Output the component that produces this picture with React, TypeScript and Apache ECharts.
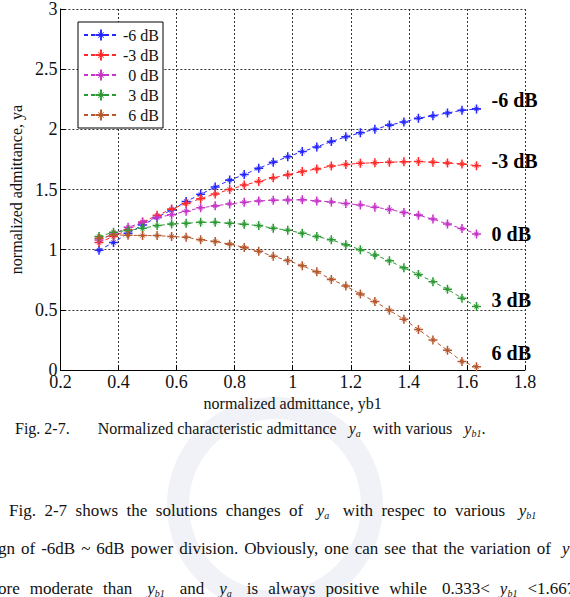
import React, { useEffect, useRef } from "react";
import * as echarts from "echarts";

const FONT = "Liberation Serif, Times New Roman, serif";

// normalized admittance yb1 (x)
const yb1 = [
  0.333, 0.383, 0.433, 0.483, 0.533, 0.583, 0.633, 0.683, 0.733, 0.783,
  0.833, 0.883, 0.933, 0.983, 1.033, 1.083, 1.133, 1.183, 1.233, 1.283,
  1.333, 1.383, 1.433, 1.483, 1.533, 1.583, 1.633,
];

const seriesNames = ["-6 dB", "-3 dB", "0 dB", "3 dB", "6 dB"];
const seriesColors = ["#2626ff", "#ff2a2a", "#c435c8", "#2c9a35", "#b5582e"];

const yaM6 = [
  0.995, 1.06, 1.136, 1.205, 1.268, 1.33, 1.4, 1.46, 1.52, 1.578,
  1.624, 1.676, 1.726, 1.772, 1.815, 1.854, 1.898, 1.938, 1.971, 2.0,
  2.035, 2.061, 2.093, 2.112, 2.136, 2.158, 2.17,
];
const yaM3 = [
  1.06, 1.11, 1.165, 1.23, 1.285, 1.337, 1.383, 1.424, 1.463, 1.5,
  1.537, 1.567, 1.597, 1.623, 1.65, 1.671, 1.695, 1.708, 1.718, 1.722,
  1.727, 1.73, 1.732, 1.727, 1.72, 1.712, 1.698,
];
const ya0 = [
  1.08, 1.13, 1.186, 1.227, 1.268, 1.29, 1.32, 1.348, 1.364, 1.38,
  1.394, 1.405, 1.411, 1.413, 1.415, 1.405, 1.397, 1.383, 1.372, 1.353,
  1.334, 1.309, 1.287, 1.254, 1.213, 1.175, 1.13,
];
const yaP3 = [
  1.109, 1.145, 1.16, 1.178, 1.2, 1.213, 1.219, 1.227, 1.227, 1.219,
  1.211, 1.2, 1.178, 1.162, 1.136, 1.109, 1.082, 1.041, 1.0, 0.956,
  0.907, 0.849, 0.794, 0.734, 0.671, 0.597, 0.528,
];
const yaP6 = [
  1.095, 1.123, 1.12, 1.117, 1.117, 1.109, 1.104, 1.082, 1.068, 1.046,
  1.019, 0.986, 0.945, 0.91, 0.867, 0.816, 0.753, 0.698, 0.632, 0.569,
  0.496, 0.422, 0.336, 0.25, 0.164, 0.071, 0.027,
];
const seriesValues = [yaM6, yaM3, ya0, yaP3, yaP6];

const xTicks = { min: 0.2, max: 1.8, interval: 0.2 };
const yTicks = { min: 0, max: 3, interval: 0.5 };

// end label vertical offsets (px)
const endLabelDy = [-9, -5, 0, -6, -14];

const STAR =
  "path://M4.15,0L5.85,0L5.85,10L4.15,10Z M0,4.15L10,4.15L10,5.85L0,5.85Z " +
  "M2.3,2.8L2.8,2.3L7.7,7.2L7.2,7.7Z M7.2,2.3L7.7,2.8L2.8,7.7L2.3,7.2Z";

const sub = (base: string, s: string) => `{i|${base}}{s|${s}}`;

const captionText =
  "Fig. 2-7.{g1| }Normalized characteristic admittance{g2| }" +
  sub("y", "a") +
  "{g2| }with various{g2| }" +
  sub("y", "b1") +
  ".";

const line1 = [
  "Fig.", "2-7", "shows", "the", "solutions", "changes", "of", "{w2| }" + sub("y", "a") + "{w2| }",
  "with", "respec", "to", "various", "{w2| }" + sub("y", "b1"),
];
const line2 = [
  "gn", "of", "-6dB", "~", "6dB", "power", "division.", "Obviously,", "one", "can", "see",
  "that", "the", "variation", "of", "{w2| }{i|y}",
];
const line3 = [
  "ore", "moderate", "than", "{w2| }" + sub("y", "b1") + "{w2| }", "and", "{w2| }" + sub("y", "a") + "{w2| }",
  "is", "always", "positive", "while", "{w2| }0.333<", sub("y", "b1"), "<1.667",
];

function joinWords(ws: string[]) {
  return ws.join("{w| }");
}

function richBase(fontSize: number, gap: number) {
  return {
    w: { width: gap, fontSize },
    w2: { width: 5, fontSize },
    g1: { width: 28, fontSize },
    g2: { width: 12, fontSize },
    i: { fontStyle: "italic", fontSize, fontFamily: FONT, color: "#111" },
    s: { fontStyle: "italic", fontSize: 10, fontFamily: FONT, color: "#111", verticalAlign: "bottom", lineHeight: 12 },
  };
}

function textEl(text: string, x: number, y: number, fontSize: number, gap: number) {
  return {
    type: "text",
    x,
    y,
    silent: true,
    style: {
      text,
      fontFamily: FONT,
      fontSize,
      fill: "#111",
      verticalAlign: "middle",
      align: "left",
      lineHeight: 20,
      rich: richBase(fontSize, gap),
    },
  };
}

export default function App() {
  const ref = useRef<HTMLDivElement>(null);

  useEffect(() => {
    if (!ref.current) return;
    const chart = echarts.init(ref.current, null, { renderer: "svg" });

    const option: any = {
      animation: false,
      backgroundColor: "#ffffff",
      textStyle: { fontFamily: FONT },
      grid: { left: 46, right: 45, top: 5, bottom: 227, containLabel: false },
      legend: {
        orient: "vertical",
        left: 78,
        top: 22,
        backgroundColor: "#ffffff",
        borderColor: "#000",
        borderWidth: 1,
        borderRadius: 0,
        padding: [5, 4, 5, 5],
        itemWidth: 34,
        itemHeight: 14,
        itemGap: 4,
        data: seriesNames,
        formatter: (n: string) => `{t|${n}}`,
        textStyle: {
          fontFamily: FONT,
          fontSize: 16,
          lineHeight: 14,
          color: "#111",
          rich: { t: { width: 36, align: "right", fontFamily: FONT, fontSize: 16, lineHeight: 14, color: "#111" } },
        },
      },
      xAxis: {
        type: "value",
        min: xTicks.min,
        max: xTicks.max,
        interval: xTicks.interval,
        name: "normalized admittance, yb1",
        nameLocation: "middle",
        nameGap: 22,
        nameTextStyle: { fontFamily: FONT, fontSize: 16, color: "#111" },
        axisLine: { show: true, onZero: false, lineStyle: { color: "#000", width: 1 } },
        axisTick: { show: true, inside: true, length: 5, lineStyle: { color: "#000" } },
        axisLabel: { fontFamily: FONT, fontSize: 18, color: "#111", margin: 3 },
        splitLine: { show: true, lineStyle: { color: "#333", type: [2, 2], width: 1 } },
      },
      yAxis: {
        type: "value",
        min: yTicks.min,
        max: yTicks.max,
        interval: yTicks.interval,
        name: "normalized admittance, ya",
        nameLocation: "middle",
        nameGap: 36,
        nameTextStyle: { fontFamily: FONT, fontSize: 16, color: "#111" },
        axisLine: { show: true, onZero: false, lineStyle: { color: "#000", width: 1 } },
        axisTick: { show: true, inside: true, length: 5, lineStyle: { color: "#000" } },
        axisLabel: { fontFamily: FONT, fontSize: 18, color: "#111", margin: 3 },
        splitLine: { show: true, lineStyle: { color: "#333", type: [2, 2], width: 1 } },
      },
      series: seriesNames.map((name, k) => ({
        name,
        type: "line",
        data: yb1.map((x, i) => [x, seriesValues[k][i]]),
        symbol: STAR,
        symbolSize: 9,
        showSymbol: true,
        color: seriesColors[k],
        itemStyle: { color: seriesColors[k] },
        lineStyle: { color: seriesColors[k], width: 1, type: [4, 3] },
        endLabel: {
          show: true,
          formatter: name,
          distance: 15,
          offset: [0, endLabelDy[k]],
          fontFamily: FONT,
          fontSize: 20,
          fontWeight: "bold",
          color: "#000",
        },
        emphasis: { disabled: true },
      })),
      graphic: [
        {
          type: "ring",
          silent: true,
          z: -10,
          shape: { cx: 275, cy: 505, r: 108, r0: 86 },
          style: { fill: "#f0f2f7", stroke: "none" },
        },
        textEl(captionText, 15, 428, 16, 4),
        textEl(joinWords(line1), 9, 510, 17, 8.5),
        textEl(joinWords(line2), -2, 548, 17, 6),
        textEl(joinWords(line3), -2, 588, 17, 10),
      ],
    };

    chart.setOption(option);
    return () => chart.dispose();
  }, []);

  return (
    <div style={{ position: "fixed", left: 0, top: 0, width: 570, height: 597, background: "#fff", overflow: "hidden" }}>
      <div ref={ref} style={{ width: 570, height: 597 }} />
    </div>
  );
}
